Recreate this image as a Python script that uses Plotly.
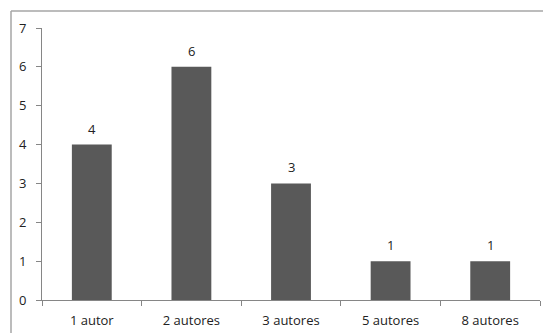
import plotly.graph_objects as go

categories = ["1 autor", "2 autores", "3 autores", "5 autores", "8 autores"]
values = [4, 6, 3, 1, 1]
y_ticks = [0, 1, 2, 3, 4, 5, 6, 7]

W, H = 543, 333
ml, mr, mt, mb = 42, 3, 28, 33
pw, ph = W - ml - mr, H - mt - mb

fig = go.Figure(go.Bar(
    x=categories, y=values,
    marker=dict(color="#595959", line=dict(width=0)),
))

for c, v in zip(categories, values):
    fig.add_annotation(x=c, y=v, text=str(v), showarrow=False,
                       yanchor="bottom", yshift=5,
                       font=dict(size=13, color="#222222", family="Open Sans"))

bx = (11 - ml) / pw
by = 1 + (mt - 11) / ph
fig.update_layout(
    width=W, height=H,
    margin=dict(l=ml, r=mr, t=mt, b=mb),
    paper_bgcolor="white", plot_bgcolor="white",
    bargap=0.6,
    showlegend=False,
    font=dict(family="Open Sans", size=13, color="#222222"),
    xaxis=dict(
        type="category", tickson="boundaries", ticks="outside", ticklen=5,
        tickcolor="#868686", showline=True, linecolor="#868686", linewidth=1,
        showgrid=False, zeroline=False, tickfont=dict(size=13), ticklabelstandoff=8,
    ),
    yaxis=dict(
        range=[0, 7], tickvals=y_ticks, ticks="outside", ticklen=5,
        tickcolor="#868686", showline=True, linecolor="#868686", linewidth=1,
        showgrid=False, zeroline=False, tickfont=dict(size=13), ticklabelstandoff=7,
    ),
    shapes=[
        dict(type="line", xref="paper", yref="paper", x0=bx, x1=bx, y0=-0.5, y1=by,
             line=dict(color="#a6a6a6", width=1.5)),
        dict(type="line", xref="paper", yref="paper", x0=bx, x1=1.2, y0=by, y1=by,
             line=dict(color="#a6a6a6", width=1.5)),
    ],
)

fig.write_html("out.html")
